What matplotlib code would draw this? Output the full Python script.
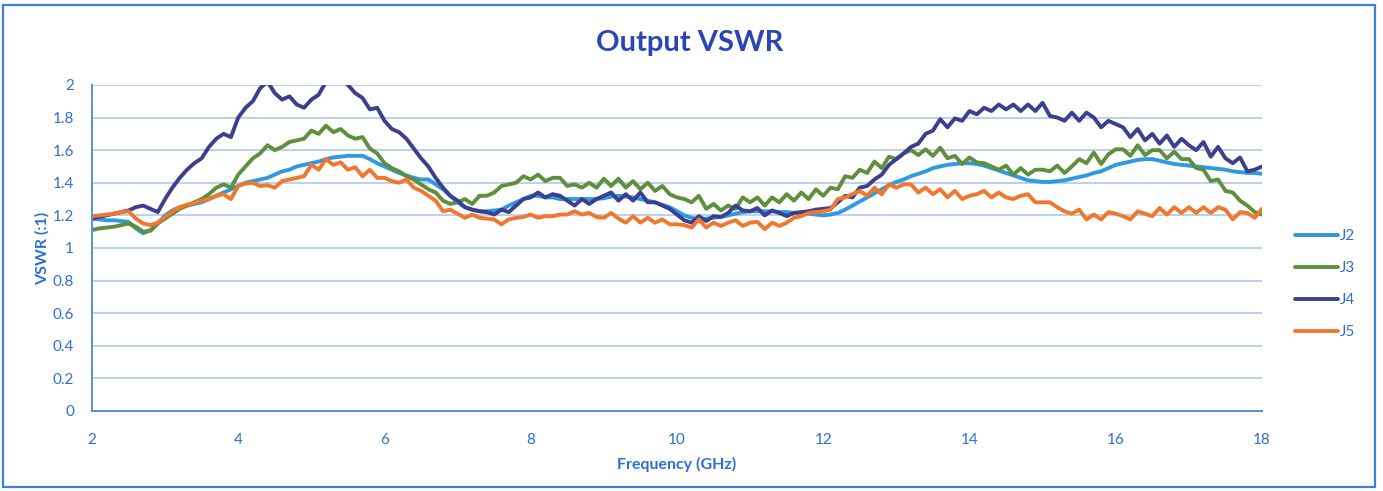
import numpy as np
import matplotlib.pyplot as plt
from matplotlib.patches import Rectangle

plt.rcParams['font.family'] = ['Lato', 'DejaVu Sans']

# frequency grid (GHz), one point every 0.1 GHz
freq = np.round(np.arange(2.0, 18.001, 0.1), 1)

# VSWR, 10 values per GHz
j2 = [1.18, 1.175, 1.17, 1.17, 1.165, 1.16, 1.12, 1.09, 1.11, 1.15,
      1.20, 1.23, 1.25, 1.26, 1.27, 1.28, 1.30, 1.32, 1.34, 1.36,
      1.38, 1.40, 1.41, 1.42, 1.43, 1.45, 1.47, 1.48, 1.50, 1.51,
      1.52, 1.53, 1.545, 1.555, 1.56, 1.565, 1.565, 1.565, 1.545, 1.52,
      1.50, 1.48, 1.46, 1.445, 1.43, 1.42, 1.42, 1.39, 1.36, 1.32,
      1.28, 1.25, 1.235, 1.225, 1.225, 1.23, 1.235, 1.26, 1.28, 1.30,
      1.32, 1.32, 1.31, 1.31, 1.30, 1.30, 1.30, 1.30, 1.30, 1.30,
      1.305, 1.315, 1.32, 1.315, 1.31, 1.30, 1.29, 1.28, 1.265, 1.25,
      1.225, 1.20, 1.185, 1.175, 1.18, 1.185, 1.19, 1.20, 1.21, 1.22,
      1.225, 1.225, 1.225, 1.225, 1.22, 1.22, 1.215, 1.215, 1.21, 1.205,
      1.20, 1.205, 1.215, 1.235, 1.26, 1.285, 1.31, 1.335, 1.36, 1.385,
      1.405, 1.42, 1.44, 1.455, 1.47, 1.49, 1.50, 1.51, 1.515, 1.52,
      1.52, 1.515, 1.505, 1.49, 1.475, 1.46, 1.445, 1.43, 1.415, 1.41,
      1.405, 1.405, 1.41, 1.415, 1.425, 1.435, 1.445, 1.46, 1.47, 1.49,
      1.51, 1.52, 1.53, 1.54, 1.545, 1.545, 1.535, 1.525, 1.515, 1.51,
      1.505, 1.50, 1.495, 1.49, 1.485, 1.48, 1.47, 1.465, 1.46, 1.46,
      1.455]

j3 = [1.11, 1.12, 1.125, 1.13, 1.14, 1.15, 1.13, 1.10, 1.105, 1.15,
      1.18, 1.21, 1.24, 1.26, 1.28, 1.30, 1.33, 1.37, 1.39, 1.37,
      1.45, 1.50, 1.55, 1.58, 1.63, 1.60, 1.62, 1.65, 1.66, 1.67,
      1.72, 1.70, 1.75, 1.71, 1.73, 1.69, 1.67, 1.68, 1.61, 1.58,
      1.52, 1.49, 1.47, 1.44, 1.42, 1.39, 1.36, 1.34, 1.29, 1.27,
      1.28, 1.30, 1.27, 1.32, 1.32, 1.34, 1.38, 1.39, 1.40, 1.44,
      1.42, 1.45, 1.41, 1.43, 1.43, 1.38, 1.39, 1.37, 1.40, 1.37,
      1.425, 1.38, 1.425, 1.37, 1.41, 1.36, 1.40, 1.35, 1.38, 1.33,
      1.31, 1.30, 1.28, 1.32, 1.24, 1.27, 1.23, 1.26, 1.24, 1.31,
      1.28, 1.31, 1.26, 1.31, 1.28, 1.33, 1.29, 1.34, 1.30, 1.36,
      1.32, 1.37, 1.36, 1.44, 1.43, 1.48, 1.46, 1.53, 1.49, 1.56,
      1.545, 1.58, 1.60, 1.57, 1.605, 1.565, 1.615, 1.55, 1.565, 1.515,
      1.555, 1.525, 1.52, 1.50, 1.48, 1.505, 1.45, 1.49, 1.45, 1.48,
      1.48, 1.47, 1.505, 1.46, 1.50, 1.545, 1.52, 1.585, 1.515, 1.575,
      1.605, 1.605, 1.565, 1.63, 1.57, 1.60, 1.60, 1.55, 1.59, 1.545,
      1.545, 1.49, 1.48, 1.41, 1.42, 1.35, 1.34, 1.29, 1.26, 1.22,
      1.205]

j4 = [1.18, 1.19, 1.20, 1.21, 1.22, 1.23, 1.25, 1.26, 1.24, 1.22,
      1.30, 1.37, 1.43, 1.48, 1.52, 1.55, 1.62, 1.67, 1.70, 1.68,
      1.80, 1.86, 1.90, 1.98, 2.02, 1.95, 1.91, 1.93, 1.88, 1.86,
      1.91, 1.94, 2.02, 2.04, 2.05, 2.00, 1.95, 1.92, 1.85, 1.86,
      1.78, 1.73, 1.71, 1.67, 1.61, 1.55, 1.50, 1.43, 1.37, 1.32,
      1.29, 1.25, 1.235, 1.225, 1.22, 1.205, 1.235, 1.22, 1.26, 1.30,
      1.31, 1.34, 1.31, 1.33, 1.32, 1.29, 1.26, 1.30, 1.27, 1.30,
      1.32, 1.34, 1.29, 1.33, 1.29, 1.34, 1.28, 1.28, 1.26, 1.24,
      1.205, 1.17, 1.155, 1.195, 1.165, 1.195, 1.19, 1.215, 1.26, 1.23,
      1.225, 1.245, 1.20, 1.23, 1.215, 1.195, 1.215, 1.22, 1.225, 1.235,
      1.24, 1.245, 1.28, 1.32, 1.31, 1.37, 1.38, 1.42, 1.45, 1.51,
      1.545, 1.58, 1.62, 1.64, 1.70, 1.72, 1.79, 1.74, 1.795, 1.78,
      1.84, 1.82, 1.86, 1.84, 1.88, 1.85, 1.88, 1.84, 1.88, 1.84,
      1.89, 1.81, 1.80, 1.78, 1.83, 1.78, 1.83, 1.80, 1.74, 1.78,
      1.76, 1.74, 1.68, 1.73, 1.66, 1.70, 1.64, 1.69, 1.62, 1.67,
      1.63, 1.60, 1.65, 1.56, 1.62, 1.55, 1.52, 1.555, 1.47, 1.48,
      1.50]

j5 = [1.195, 1.20, 1.205, 1.21, 1.22, 1.225, 1.18, 1.15, 1.14, 1.155,
      1.19, 1.225, 1.25, 1.265, 1.275, 1.29, 1.30, 1.32, 1.33, 1.30,
      1.38, 1.395, 1.40, 1.38, 1.385, 1.37, 1.41, 1.42, 1.43, 1.44,
      1.51, 1.48, 1.545, 1.51, 1.525, 1.48, 1.495, 1.44, 1.48, 1.43,
      1.43, 1.41, 1.40, 1.42, 1.37, 1.35, 1.32, 1.29, 1.225, 1.235,
      1.21, 1.185, 1.205, 1.185, 1.18, 1.175, 1.145, 1.175, 1.185, 1.19,
      1.205, 1.185, 1.195, 1.195, 1.205, 1.205, 1.225, 1.205, 1.215, 1.19,
      1.185, 1.215, 1.18, 1.155, 1.195, 1.155, 1.185, 1.155, 1.175, 1.145,
      1.145, 1.14, 1.125, 1.175, 1.125, 1.155, 1.135, 1.155, 1.17, 1.135,
      1.155, 1.16, 1.115, 1.155, 1.135, 1.155, 1.185, 1.195, 1.215, 1.22,
      1.225, 1.235, 1.30, 1.31, 1.33, 1.35, 1.32, 1.37, 1.33, 1.39,
      1.37, 1.39, 1.39, 1.34, 1.37, 1.33, 1.36, 1.31, 1.35, 1.30,
      1.32, 1.33, 1.35, 1.31, 1.34, 1.31, 1.30, 1.32, 1.33, 1.28,
      1.28, 1.28, 1.25, 1.225, 1.21, 1.235, 1.175, 1.205, 1.175, 1.22,
      1.21, 1.195, 1.175, 1.225, 1.21, 1.195, 1.245, 1.205, 1.25, 1.215,
      1.25, 1.215, 1.25, 1.215, 1.25, 1.235, 1.175, 1.22, 1.215, 1.185,
      1.24]

series = {'J2': j2, 'J3': j3, 'J4': j4, 'J5': j5}
colors = {'J2': '#2f9ae0', 'J3': '#5e8f3c', 'J4': '#3c3f8e', 'J5': '#f0782e'}

text_blue = '#2e6fd2'
title_blue = '#2a46b5'
grid_blue = '#a9c3ea'
axis_blue = '#5b8ed8'

fig = plt.figure(figsize=(13.83, 4.91), dpi=100)
ax = fig.add_axes([0.0665, 0.163, 0.846, 0.664])

for name, vals in series.items():
    ax.plot(freq, vals, color=colors[name], lw=2.8, label=name,
            solid_joinstyle='round', solid_capstyle='round')

ax.set_xlim(2, 18)
ax.set_ylim(0, 2)
ax.set_xticks(np.arange(2, 19, 2))
ax.set_yticks(np.arange(0, 2.01, 0.2))
ax.set_yticklabels(['0', '0.2', '0.4', '0.6', '0.8', '1', '1.2', '1.4', '1.6', '1.8', '2'])
ax.grid(axis='y', color=grid_blue, lw=1.1)
ax.set_axisbelow(True)
ax.tick_params(length=0, colors=text_blue, labelsize=11)
ax.tick_params(axis='x', pad=16)
ax.tick_params(axis='y', pad=13)
for s in ['top', 'right']:
    ax.spines[s].set_visible(False)
for s in ['left', 'bottom']:
    ax.spines[s].set_color(axis_blue)
    ax.spines[s].set_linewidth(1.4)

ax.set_xlabel('Frequency (GHz)', color=text_blue, fontsize=11.5, fontweight='bold', labelpad=7)
ax.set_ylabel('VSWR (:1)', color=text_blue, fontsize=11.5, fontweight='bold', labelpad=2)
fig.text(0.4985, 0.912, 'Output VSWR', color=title_blue, fontsize=21, fontweight='bold',
         ha='center', va='center')

leg = fig.legend(loc='center left', bbox_to_anchor=(0.932, 0.421), frameon=False,
                 fontsize=11, handlelength=2.8, handletextpad=0.15, labelspacing=1.18,
                 borderaxespad=0)
for t in leg.get_texts():
    t.set_color(text_blue)

fig.patches.append(Rectangle((0.002, 0.008), 0.992, 0.982, transform=fig.transFigure,
                             fill=False, edgecolor='#3c80dc', lw=1.6))

fig.savefig('out.png', dpi=100)
